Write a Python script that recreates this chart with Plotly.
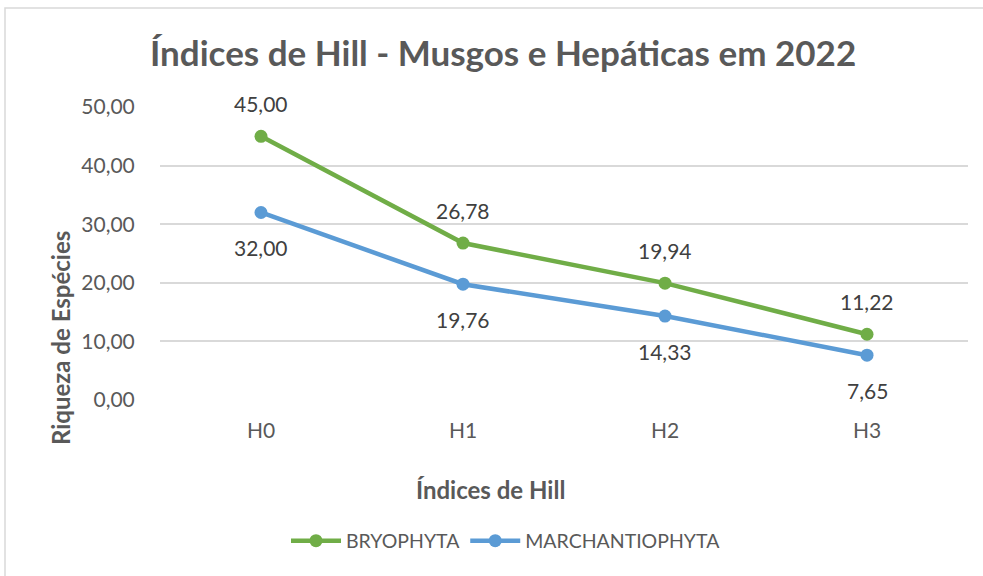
import plotly.graph_objects as go

categories = ["H0", "H1", "H2", "H3"]
bryophyta = [45.00, 26.78, 19.94, 11.22]
marchantiophyta = [32.00, 19.76, 14.33, 7.65]
y_ticks = [0, 10, 20, 30, 40, 50]

GREEN = "#70AD47"
BLUE = "#5B9BD5"
FONT = "Lato"
W, H = 983, 576
L, R, T, B = 160, 968, 107, 400  # plot area pixels


def px(x):
    return (x - L) / (R - L)


def py(y):
    return (B - y) / (B - T)


fig = go.Figure()
fig.add_trace(go.Scatter(x=categories, y=bryophyta, name="BRYOPHYTA", mode="lines+markers",
                         line=dict(color=GREEN, width=4.5), marker=dict(size=13, color=GREEN)))
fig.add_trace(go.Scatter(x=categories, y=marchantiophyta, name="MARCHANTIOPHYTA", mode="lines+markers",
                         line=dict(color=BLUE, width=4.5), marker=dict(size=13, color=BLUE)))

annotations = []
for c, v in zip(categories, bryophyta):
    annotations.append(dict(x=c, y=v, text=f"{v:.2f}".replace(".", ","), showarrow=False, yshift=33,
                            font=dict(family=FONT, size=21, color="#404040")))
for c, v in zip(categories, marchantiophyta):
    annotations.append(dict(x=c, y=v, text=f"{v:.2f}".replace(".", ","), showarrow=False, yshift=-35,
                            font=dict(family=FONT, size=21, color="#404040")))

annotations.append(dict(xref="paper", yref="paper", x=px(503), y=py(52), xanchor="center", yanchor="middle",
                        text="<b>Índices de Hill - Musgos e Hepáticas em 2022</b>", showarrow=False,
                        font=dict(family=FONT, size=35, color="#595959")))
annotations.append(dict(xref="paper", yref="paper", x=px(490), y=py(489), xanchor="center", yanchor="middle",
                        text="<b>Índices de Hill</b>", showarrow=False,
                        font=dict(family=FONT, size=24, color="#595959")))
annotations.append(dict(xref="paper", yref="paper", x=px(60), y=py(338), xanchor="center", yanchor="middle",
                        text="<b>Riqueza de Espécies</b>", showarrow=False, textangle=-90,
                        font=dict(family=FONT, size=24, color="#595959")))

fig.update_layout(
    width=W, height=H,
    margin=dict(l=L, r=W - R, t=T, b=H - B),
    paper_bgcolor="white", plot_bgcolor="white",
    separators=",.",
    font=dict(family=FONT, size=21, color="#595959"),
    annotations=annotations,
    showlegend=True,
    hovermode=False,
    legend=dict(orientation="h", x=px(506), y=py(541), xanchor="center", yanchor="middle",
                font=dict(family=FONT, size=19.5, color="#595959"), itemwidth=50),
    shapes=[dict(type="rect", xref="paper", yref="paper", x0=px(5), x1=px(1000), y0=py(590), y1=py(8),
                 line=dict(color="#D9D9D9", width=1.5), layer="below")],
)
fig.update_xaxes(type="category", range=[-0.5, 3.5], showgrid=False, showline=False, zeroline=False,
                 ticks="outside", ticklen=12, tickcolor="rgba(0,0,0,0)",
                 tickfont=dict(family=FONT, size=21, color="#595959"))
fig.update_yaxes(range=[0, 50], tickvals=y_ticks, tickformat=".2f", showgrid=True, gridcolor="#D9D9D9",
                 gridwidth=1.5, zeroline=False, showline=False, ticks="outside", ticklen=20,
                 tickcolor="rgba(0,0,0,0)", tickfont=dict(family=FONT, size=21, color="#595959"))

fig.write_html("out.html", config={"displayModeBar": False},
               post_script="document.body.style.margin='0px';")
